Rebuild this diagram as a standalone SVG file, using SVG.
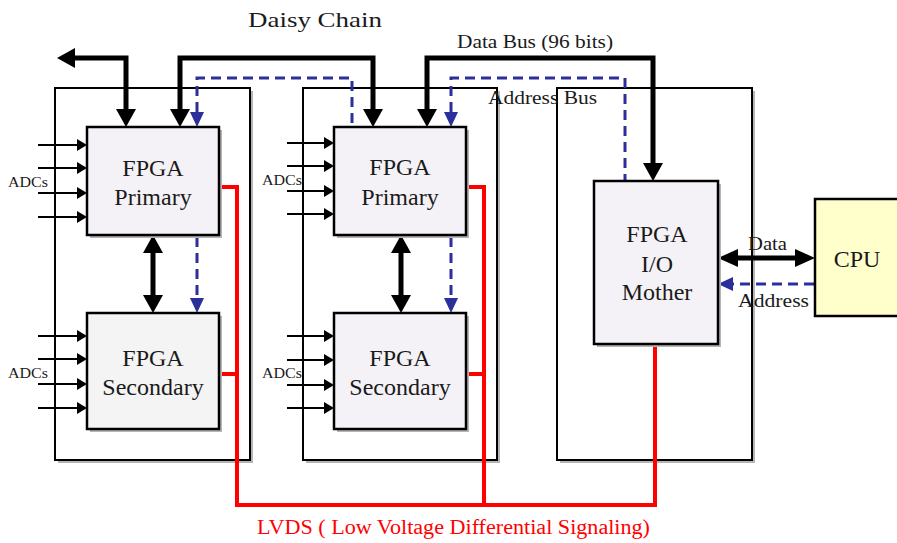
<svg xmlns="http://www.w3.org/2000/svg" width="897" height="543" viewBox="0 0 897 543">
<style>
text{font-family:"Liberation Serif","Times New Roman",serif;fill:#1a1a1a}
.outer{fill:#fff;stroke:#000;stroke-width:2}
.shadow{fill:#b5b5b5}
.fpga{fill:#f5f2f7;stroke:#000;stroke-width:2.5}
.sec{fill:#f4f4f4;stroke:#000;stroke-width:2.5}
.cpu{fill:#ffffcc;stroke:#000;stroke-width:2.5}
.big{fill:none;stroke:#000;stroke-width:5;stroke-linejoin:miter}
.blue{fill:none;stroke:#2b2f9b;stroke-width:3;stroke-dasharray:10 6}
.adc{fill:none;stroke:#000;stroke-width:2;marker-end:url(#mAdc)}
.red{fill:none;stroke:#ff0000;stroke-width:4;stroke-linejoin:miter}
.lbl{font-size:24px;text-anchor:middle}
</style>
<defs>
<marker id="mBig" viewBox="0 0 18 20" refX="0" refY="10" markerWidth="18" markerHeight="20" markerUnits="userSpaceOnUse" orient="auto-start-reverse"><path d="M0,0 L18,10 L0,20 z" fill="#000"/></marker>
<marker id="mData" viewBox="0 0 20 18" refX="0" refY="9" markerWidth="20" markerHeight="18" markerUnits="userSpaceOnUse" orient="auto-start-reverse"><path d="M0,0 L20,9 L0,18 z" fill="#000"/></marker>
<marker id="mBlue" viewBox="0 0 15 14" refX="0" refY="7" markerWidth="15" markerHeight="14" markerUnits="userSpaceOnUse" orient="auto-start-reverse"><path d="M0,0 L15,7 L0,14 z" fill="#2b2f9b"/></marker>
<marker id="mAdc" viewBox="0 0 10 12" refX="0" refY="6" markerWidth="10" markerHeight="12" markerUnits="userSpaceOnUse" orient="auto"><path d="M0,0 L10,6 L0,12 z" fill="#000"/></marker>
</defs>
<rect width="897" height="543" fill="#fff"/>

<g id="module1">
<rect class="shadow" x="58" y="91" width="195" height="372"/>
<rect class="outer" x="55" y="88" width="195" height="372"/>
</g>
<g id="module2">
<rect class="shadow" x="306" y="91" width="194" height="372"/>
<rect class="outer" x="303" y="88" width="194" height="372"/>
</g>
<g id="module3">
<rect class="shadow" x="560" y="91" width="195" height="372"/>
<rect class="outer" x="557" y="88" width="195" height="372"/>
</g>

<text x="248" y="27" font-size="22" textLength="134" lengthAdjust="spacingAndGlyphs">Daisy Chain</text>
<text x="457" y="48" font-size="19" textLength="156" lengthAdjust="spacingAndGlyphs">Data Bus (96 bits)</text>
<text x="488" y="104" font-size="19" textLength="109" lengthAdjust="spacingAndGlyphs">Address Bus</text>

<g id="connectors">
<path class="red" d="M219,187 L237,187 L237,505 L655,505 L655,344"/>
<path class="red" d="M219,374 L237,374"/>
<path class="red" d="M466,187 L484,187 L484,505"/>
<path class="red" d="M466,374 L484,374"/>

<path class="big" d="M126,109 L126,58 L75,58" marker-start="url(#mBig)" marker-end="url(#mBig)"/>
<path class="big" d="M180,109 L180,58 L373,58 L373,109" marker-start="url(#mBig)" marker-end="url(#mBig)"/>
<path class="big" d="M427,109 L427,58 L653,58 L653,163" marker-start="url(#mBig)" marker-end="url(#mBig)"/>
<path class="big" d="M153,253 L153,295" marker-start="url(#mBig)" marker-end="url(#mBig)"/>
<path class="big" d="M401,253 L401,295" marker-start="url(#mBig)" marker-end="url(#mBig)"/>
<path class="big" d="M738,258 L795,258" stroke-width="4" marker-start="url(#mData)" marker-end="url(#mData)"/>

<path class="blue" d="M197,112 L197,78 L352,78 L352,127" marker-start="url(#mBlue)"/>
<path class="blue" d="M451,112 L451,78 L625,78 L625,181" marker-start="url(#mBlue)"/>
<path class="blue" d="M197,237 L197,298" marker-end="url(#mBlue)"/>
<path class="blue" d="M451,237 L451,298" marker-end="url(#mBlue)"/>
<path class="blue" d="M814,284 L733,284" marker-end="url(#mBlue)"/>

<line class="adc" x1="38" y1="145" x2="77" y2="145"/>
<line class="adc" x1="38" y1="168" x2="77" y2="168"/>
<line class="adc" x1="38" y1="193" x2="77" y2="193"/>
<line class="adc" x1="38" y1="217" x2="77" y2="217"/>
<line class="adc" x1="38" y1="336" x2="77" y2="336"/>
<line class="adc" x1="38" y1="359" x2="77" y2="359"/>
<line class="adc" x1="38" y1="384" x2="77" y2="384"/>
<line class="adc" x1="38" y1="408" x2="77" y2="408"/>
<line class="adc" x1="287" y1="143" x2="324" y2="143"/>
<line class="adc" x1="287" y1="166" x2="324" y2="166"/>
<line class="adc" x1="287" y1="191" x2="324" y2="191"/>
<line class="adc" x1="287" y1="214" x2="324" y2="214"/>
<line class="adc" x1="287" y1="336" x2="324" y2="336"/>
<line class="adc" x1="287" y1="360" x2="324" y2="360"/>
<line class="adc" x1="287" y1="385" x2="324" y2="385"/>
<line class="adc" x1="287" y1="408" x2="324" y2="408"/>
</g>

<g id="primary1">
<rect class="shadow" x="90" y="130" width="132" height="108"/>
<rect class="fpga" x="87" y="127" width="132" height="108"/>
<text class="lbl" x="153" y="176">FPGA</text>
<text class="lbl" x="153" y="205">Primary</text>
</g>
<g id="secondary1">
<rect class="shadow" x="90" y="316" width="132" height="116"/>
<rect class="sec" x="87" y="313" width="132" height="116"/>
<text class="lbl" x="153" y="366">FPGA</text>
<text class="lbl" x="153" y="395">Secondary</text>
</g>
<g id="primary2">
<rect class="shadow" x="337" y="130" width="132" height="108"/>
<rect class="fpga" x="334" y="127" width="132" height="108"/>
<text class="lbl" x="400" y="175">FPGA</text>
<text class="lbl" x="400" y="205">Primary</text>
</g>
<g id="secondary2">
<rect class="shadow" x="337" y="316" width="132" height="116"/>
<rect class="fpga" x="334" y="313" width="132" height="116"/>
<text class="lbl" x="400" y="366">FPGA</text>
<text class="lbl" x="400" y="395">Secondary</text>
</g>
<g id="mother">
<rect class="shadow" x="597" y="184" width="124" height="163"/>
<rect class="fpga" x="594" y="181" width="124" height="163"/>
<text class="lbl" x="657" y="242">FPGA</text>
<text class="lbl" x="657" y="272">I/O</text>
<text class="lbl" x="657" y="300">Mother</text>
</g>
<g id="cpu">
<rect class="cpu" x="815" y="199" width="90" height="117"/>
<text x="857" y="267" font-size="24" text-anchor="middle">CPU</text>
</g>

<text x="8" y="187" font-size="15" textLength="40" lengthAdjust="spacingAndGlyphs">ADCs</text>
<text x="8" y="378" font-size="15" textLength="40" lengthAdjust="spacingAndGlyphs">ADCs</text>
<text x="262" y="185" font-size="15" textLength="40" lengthAdjust="spacingAndGlyphs">ADCs</text>
<text x="262" y="378" font-size="15" textLength="40" lengthAdjust="spacingAndGlyphs">ADCs</text>
<text x="748" y="250" font-size="18" textLength="39" lengthAdjust="spacingAndGlyphs">Data</text>
<text x="738" y="307" font-size="19" textLength="71" lengthAdjust="spacingAndGlyphs">Address</text>
<text x="257" y="534" font-size="20" style="fill:#ff0000" textLength="393" lengthAdjust="spacingAndGlyphs">LVDS ( Low Voltage Differential Signaling)</text>
</svg>
